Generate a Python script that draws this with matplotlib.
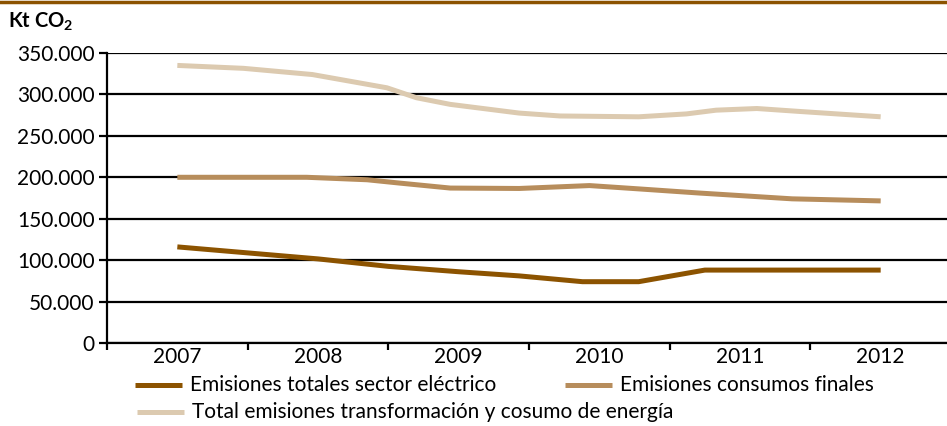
import matplotlib
matplotlib.use("Agg")
import matplotlib.pyplot as plt
from matplotlib.lines import Line2D
from matplotlib.ticker import FuncFormatter, FixedLocator

plt.rcParams['font.family'] = ['Lato', 'DejaVu Sans']

# Category labels (years)
years = [2007, 2008, 2009, 2010, 2011, 2012]
year_labels = ["2007", "2008", "2009", "2010", "2011", "2012"]

# Emisiones totales sector eléctrico (kt CO2)
elec_x = [2007.0, 2008.0, 2008.5, 2009.0, 2009.43, 2009.88, 2010.28, 2010.75, 2011.5, 2012.0]
elec_y = [116000, 101500, 92500, 86000, 81000, 74000, 74000, 88000, 88000, 88000]

# Emisiones consumos finales (kt CO2)
fin_x = [2007.0, 2007.92, 2008.35, 2008.58, 2008.94, 2009.43, 2009.93, 2010.28, 2010.71, 2011.37, 2012.0]
fin_y = [200000, 200000, 197000, 193000, 187000, 186500, 190000, 186000, 181000, 174000, 171500]

# Total emisiones transformación y consumo de energía (kt CO2)
tot_x = [2007.0, 2007.47, 2007.96, 2008.49, 2008.70, 2008.94, 2009.43, 2009.72, 2010.28,
         2010.62, 2010.83, 2011.12, 2011.42, 2012.0]
tot_y = [335000, 331500, 324000, 308000, 296000, 288000, 277500, 274000, 273000,
         276500, 281000, 283000, 279500, 273000]

series = [
    ("Emisiones totales sector eléctrico", elec_x, elec_y, "#8C5300"),
    ("Emisiones consumos finales", fin_x, fin_y, "#B78D5C"),
    ("Total emisiones transformación y cosumo de energía", tot_x, tot_y, "#DCCAB0"),
]

FS = 15

fig = plt.figure(figsize=(9.47, 4.26), dpi=100)
ax = fig.add_axes([107 / 947, 1 - 343 / 426, 844 / 947, 290 / 426])

lines = []
for label, xs, ys, color in series:
    ln, = ax.plot(xs, ys, color=color, lw=3.6, solid_capstyle='butt',
                  solid_joinstyle='round', label=label, zorder=3)
    lines.append(ln)

ax.set_xlim(2006.5, 2012.5)
ax.set_ylim(0, 350000)

ax.yaxis.set_major_locator(FixedLocator(range(0, 350001, 50000)))
ax.yaxis.set_major_formatter(FuncFormatter(lambda v, p: f"{v:,.0f}".replace(",", ".")))
ax.grid(axis='y', color='black', lw=1.6, zorder=1)

ax.set_xticks(years)
ax.set_xticklabels(year_labels)
ax.set_xticks([y + 0.5 for y in [2006] + years], minor=True)
ax.tick_params(axis='x', which='major', length=0, pad=3, labelsize=FS)
ax.tick_params(axis='x', which='minor', length=5, width=1.6, direction='out', color='black')
ax.tick_params(axis='y', length=6, width=1.6, direction='out', color='black', pad=3, labelsize=FS)

for side in ('top', 'right'):
    ax.spines[side].set_visible(False)
for side in ('left', 'bottom'):
    ax.spines[side].set_linewidth(1.6)
    ax.spines[side].set_color('black')

# Unit label
fig.text(8 / 947, 1 - 22 / 426, r"Kt CO$_\mathregular{2}$", fontsize=14.5, fontweight='bold',
         va='center', ha='left')

# Brown band along the top edge
fig.add_artist(Line2D([0, 1], [1 - 1.5 / 426, 1 - 1.5 / 426], transform=fig.transFigure,
                      color="#8C5300", lw=2.5))

# Legend entries
legend_pos = [(135, 385), (565, 385), (137, 412)]
for ln, (px, py) in zip(lines, legend_pos):
    y = 1 - py / 426
    fig.add_artist(Line2D([px / 947, (px + 47) / 947], [y, y], transform=fig.transFigure,
                          color=ln.get_color(), lw=3.6, solid_capstyle='butt'))
    fig.text((px + 55) / 947, y, ln.get_label(), fontsize=FS, va='center', ha='left')

fig.savefig("out.png", dpi=100)
